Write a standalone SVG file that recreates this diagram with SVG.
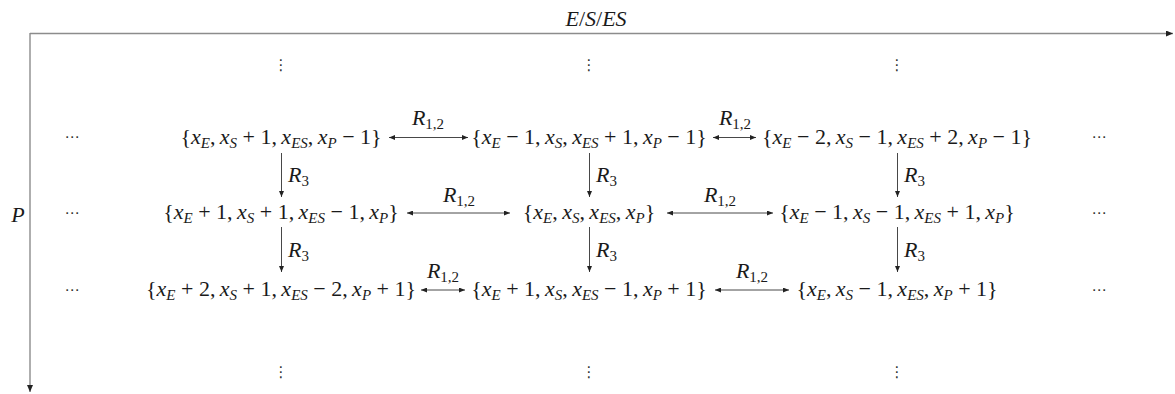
<svg xmlns="http://www.w3.org/2000/svg" width="1175" height="394" viewBox="0 0 1175 394">
<style>
.m{font-family:"Liberation Serif","DejaVu Serif",serif;font-size:22px;fill:#1a1a1a;text-anchor:middle}
.i{font-style:italic}
.sb{font-style:italic;font-size:15px}
.su{font-size:15px}
.d{font-family:"DejaVu Sans",sans-serif;font-size:15px;fill:#333;text-anchor:middle}
.ax{stroke:#8c8c8c;stroke-width:1.4;fill:none}
.ar{stroke:#333;stroke-width:0.9;fill:none}
</style>
<defs>
<marker id="ah" markerUnits="userSpaceOnUse" markerWidth="6" markerHeight="5" refX="6" refY="2.5" orient="auto-start-reverse"><path d="M0,0 L6,2.5 L0,5 z" fill="#222"/></marker>
<marker id="axh" markerUnits="userSpaceOnUse" markerWidth="7" markerHeight="6" refX="7" refY="3" orient="auto"><path d="M0,0 L7,3 L0,6 z" fill="#222"/></marker>
</defs>

<g id="axes">
<line class="ax" x1="30" y1="33.5" x2="1173" y2="33.5" marker-end="url(#axh)"/>
<line class="ax" x1="30" y1="33" x2="30" y2="392" marker-end="url(#axh)"/>
<text class="m" x="596" y="26"><tspan class="i">E</tspan>/<tspan class="i">S</tspan>/<tspan class="i">ES</tspan></text>
<text class="m i" x="18" y="222">P</text>
</g>

<g id="dots">
<text class="d" x="281" y="70">⋮</text>
<text class="d" x="589" y="70">⋮</text>
<text class="d" x="897" y="70">⋮</text>
<text class="d" x="281" y="377">⋮</text>
<text class="d" x="589" y="377">⋮</text>
<text class="d" x="897" y="377">⋮</text>
<text class="d" x="72" y="142">⋯</text>
<text class="d" x="72" y="218">⋯</text>
<text class="d" x="72" y="295">⋯</text>
<text class="d" x="1099" y="142">⋯</text>
<text class="d" x="1099" y="218">⋯</text>
<text class="d" x="1099" y="295">⋯</text>
</g>

<g id="connectors">
<line class="ar" x1="389" y1="137.5" x2="468" y2="137.5" marker-start="url(#ah)" marker-end="url(#ah)"/>
<line class="ar" x1="713" y1="137.5" x2="756" y2="137.5" marker-start="url(#ah)" marker-end="url(#ah)"/>
<line class="ar" x1="407" y1="213" x2="510" y2="213" marker-start="url(#ah)" marker-end="url(#ah)"/>
<line class="ar" x1="667" y1="213" x2="773" y2="213" marker-start="url(#ah)" marker-end="url(#ah)"/>
<line class="ar" x1="421" y1="290" x2="465" y2="290" marker-start="url(#ah)" marker-end="url(#ah)"/>
<line class="ar" x1="715" y1="290" x2="789" y2="290" marker-start="url(#ah)" marker-end="url(#ah)"/>
<line class="ar" x1="281.5" y1="153" x2="281.5" y2="197" marker-end="url(#ah)"/>
<line class="ar" x1="589.5" y1="153" x2="589.5" y2="197" marker-end="url(#ah)"/>
<line class="ar" x1="897.5" y1="153" x2="897.5" y2="197" marker-end="url(#ah)"/>
<line class="ar" x1="281.5" y1="227" x2="281.5" y2="272" marker-end="url(#ah)"/>
<line class="ar" x1="589.5" y1="227" x2="589.5" y2="272" marker-end="url(#ah)"/>
<line class="ar" x1="897.5" y1="227" x2="897.5" y2="272" marker-end="url(#ah)"/>
<text class="m" x="428" y="125"><tspan class="i">R</tspan><tspan class="su" dy="4">1,2</tspan></text>
<text class="m" x="735" y="125"><tspan class="i">R</tspan><tspan class="su" dy="4">1,2</tspan></text>
<text class="m" x="459" y="202"><tspan class="i">R</tspan><tspan class="su" dy="4">1,2</tspan></text>
<text class="m" x="720" y="202"><tspan class="i">R</tspan><tspan class="su" dy="4">1,2</tspan></text>
<text class="m" x="443" y="278"><tspan class="i">R</tspan><tspan class="su" dy="4">1,2</tspan></text>
<text class="m" x="752" y="278"><tspan class="i">R</tspan><tspan class="su" dy="4">1,2</tspan></text>
<g style="text-anchor:start">
<text class="m" style="text-anchor:start" x="288" y="182"><tspan class="i">R</tspan><tspan class="su" dy="4">3</tspan></text>
<text class="m" style="text-anchor:start" x="596" y="182"><tspan class="i">R</tspan><tspan class="su" dy="4">3</tspan></text>
<text class="m" style="text-anchor:start" x="904" y="182"><tspan class="i">R</tspan><tspan class="su" dy="4">3</tspan></text>
<text class="m" style="text-anchor:start" x="288" y="257"><tspan class="i">R</tspan><tspan class="su" dy="4">3</tspan></text>
<text class="m" style="text-anchor:start" x="596" y="257"><tspan class="i">R</tspan><tspan class="su" dy="4">3</tspan></text>
<text class="m" style="text-anchor:start" x="904" y="257"><tspan class="i">R</tspan><tspan class="su" dy="4">3</tspan></text>
</g>
</g>

<g id="n11"><text class="m" x="281" y="143.5">{<tspan class="i">x</tspan><tspan class="sb" dy="4">E</tspan><tspan dy="-4">,&#8201;</tspan><tspan class="i">x</tspan><tspan class="sb" dy="4">S</tspan><tspan dy="-4"> + 1,&#8201;</tspan><tspan class="i">x</tspan><tspan class="sb" dy="4">ES</tspan><tspan dy="-4">,&#8201;</tspan><tspan class="i">x</tspan><tspan class="sb" dy="4">P</tspan><tspan dy="-4"> − 1}</tspan></text></g>
<g id="n12"><text class="m" x="589" y="143.5">{<tspan class="i">x</tspan><tspan class="sb" dy="4">E</tspan><tspan dy="-4"> − 1,&#8201;</tspan><tspan class="i">x</tspan><tspan class="sb" dy="4">S</tspan><tspan dy="-4">,&#8201;</tspan><tspan class="i">x</tspan><tspan class="sb" dy="4">ES</tspan><tspan dy="-4"> + 1,&#8201;</tspan><tspan class="i">x</tspan><tspan class="sb" dy="4">P</tspan><tspan dy="-4"> − 1}</tspan></text></g>
<g id="n13"><text class="m" x="897" y="143.5">{<tspan class="i">x</tspan><tspan class="sb" dy="4">E</tspan><tspan dy="-4"> − 2,&#8201;</tspan><tspan class="i">x</tspan><tspan class="sb" dy="4">S</tspan><tspan dy="-4"> − 1,&#8201;</tspan><tspan class="i">x</tspan><tspan class="sb" dy="4">ES</tspan><tspan dy="-4"> + 2,&#8201;</tspan><tspan class="i">x</tspan><tspan class="sb" dy="4">P</tspan><tspan dy="-4"> − 1}</tspan></text></g>

<g id="n21"><text class="m" x="281" y="219">{<tspan class="i">x</tspan><tspan class="sb" dy="4">E</tspan><tspan dy="-4"> + 1,&#8201;</tspan><tspan class="i">x</tspan><tspan class="sb" dy="4">S</tspan><tspan dy="-4"> + 1,&#8201;</tspan><tspan class="i">x</tspan><tspan class="sb" dy="4">ES</tspan><tspan dy="-4"> − 1,&#8201;</tspan><tspan class="i">x</tspan><tspan class="sb" dy="4">P</tspan><tspan dy="-4">}</tspan></text></g>
<g id="n22"><text class="m" x="589" y="219">{<tspan class="i">x</tspan><tspan class="sb" dy="4">E</tspan><tspan dy="-4">,&#8201;</tspan><tspan class="i">x</tspan><tspan class="sb" dy="4">S</tspan><tspan dy="-4">,&#8201;</tspan><tspan class="i">x</tspan><tspan class="sb" dy="4">ES</tspan><tspan dy="-4">,&#8201;</tspan><tspan class="i">x</tspan><tspan class="sb" dy="4">P</tspan><tspan dy="-4">}</tspan></text></g>
<g id="n23"><text class="m" x="897" y="219">{<tspan class="i">x</tspan><tspan class="sb" dy="4">E</tspan><tspan dy="-4"> − 1,&#8201;</tspan><tspan class="i">x</tspan><tspan class="sb" dy="4">S</tspan><tspan dy="-4"> − 1,&#8201;</tspan><tspan class="i">x</tspan><tspan class="sb" dy="4">ES</tspan><tspan dy="-4"> + 1,&#8201;</tspan><tspan class="i">x</tspan><tspan class="sb" dy="4">P</tspan><tspan dy="-4">}</tspan></text></g>

<g id="n31"><text class="m" x="281" y="296">{<tspan class="i">x</tspan><tspan class="sb" dy="4">E</tspan><tspan dy="-4"> + 2,&#8201;</tspan><tspan class="i">x</tspan><tspan class="sb" dy="4">S</tspan><tspan dy="-4"> + 1,&#8201;</tspan><tspan class="i">x</tspan><tspan class="sb" dy="4">ES</tspan><tspan dy="-4"> − 2,&#8201;</tspan><tspan class="i">x</tspan><tspan class="sb" dy="4">P</tspan><tspan dy="-4"> + 1}</tspan></text></g>
<g id="n32"><text class="m" x="589" y="296">{<tspan class="i">x</tspan><tspan class="sb" dy="4">E</tspan><tspan dy="-4"> + 1,&#8201;</tspan><tspan class="i">x</tspan><tspan class="sb" dy="4">S</tspan><tspan dy="-4">,&#8201;</tspan><tspan class="i">x</tspan><tspan class="sb" dy="4">ES</tspan><tspan dy="-4"> − 1,&#8201;</tspan><tspan class="i">x</tspan><tspan class="sb" dy="4">P</tspan><tspan dy="-4"> + 1}</tspan></text></g>
<g id="n33"><text class="m" x="897" y="296">{<tspan class="i">x</tspan><tspan class="sb" dy="4">E</tspan><tspan dy="-4">,&#8201;</tspan><tspan class="i">x</tspan><tspan class="sb" dy="4">S</tspan><tspan dy="-4"> − 1,&#8201;</tspan><tspan class="i">x</tspan><tspan class="sb" dy="4">ES</tspan><tspan dy="-4">,&#8201;</tspan><tspan class="i">x</tspan><tspan class="sb" dy="4">P</tspan><tspan dy="-4"> + 1}</tspan></text></g>
</svg>
